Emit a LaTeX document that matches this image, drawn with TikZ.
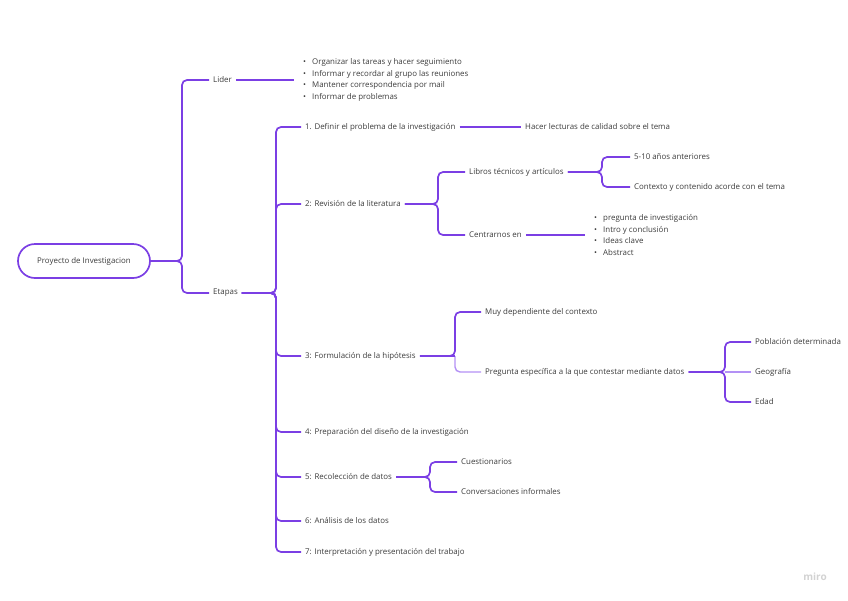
\documentclass[tikz,border=0pt]{standalone}
\usepackage{fontspec}
\setmainfont{Open Sans}
\definecolor{miroviolet}{HTML}{7B3FE4}
\definecolor{mirolilac}{HTML}{B391F5}
\definecolor{mirotext}{HTML}{3C3C3C}
\tikzset{
  topic/.style={anchor=west, inner xsep=4pt, inner ysep=2pt, font=\fontsize{7.9}{9}\selectfont, text=mirotext},
  bullets/.style={topic, inner xsep=9pt, align=left, font=\fontsize{7.9}{11.7}\selectfont},
  link/.style={draw=miroviolet, line width=1.7pt, rounded corners=5pt},
  softlink/.style={link, draw=mirolilac, line width=1.4pt},
}
\newcommand{\bul}{\makebox[9pt][l]{\textbullet}}
\begin{document}
\begin{tikzpicture}[x=1pt, y=-1pt]
    \useasboundingbox (0,0) rectangle (848,600);

    % Root
    \node[draw=miroviolet, line width=1.7pt, rounded corners=17pt, minimum width=132pt, minimum height=34pt, font=\fontsize{7.9}{9}\selectfont, text=mirotext] (root) at (84,261) {Proyecto de Investigacion};

    % Lider and Etapas
    \node[topic] (lider) at (209,80) {Lider};
    \node[topic] (etapas) at (209,293) {Etapas};
    \coordinate (b0) at (182,261);
    \draw[link] (root.east) -- (b0) |- (lider.west);
    \draw[link] (root.east) -- (b0) |- (etapas.west);

    % Tasks of the leader
    \node[bullets] (lidlist) at (294,80) {\bul Organizar las tareas y hacer seguimiento\\\bul Informar y recordar al grupo las reuniones\\\bul Mantener correspondencia por mail\\\bul Informar de problemas};
    \draw[link] (lider.east) -- (lidlist.west);

    % Stages
    \node[topic] (e1) at (301,127) {1. Definir el problema de la investigación};
    \node[topic] (e2) at (301,204) {2: Revisión de la literatura};
    \node[topic] (e3) at (301,356) {3: Formulación de la hipótesis};
    \node[topic] (e4) at (301,432) {4: Preparación del diseño de la investigación};
    \node[topic] (e5) at (301,477) {5: Recolección de datos};
    \node[topic] (e6) at (301,521) {6: Análisis de los datos};
    \node[topic] (e7) at (301,552) {7: Interpretación y presentación del trabajo};
    \coordinate (b1) at (276,293);
    \foreach \e in {e1,e2,e3,e4,e5,e6,e7}
        \draw[link] (etapas.east) -- (b1) |- (\e.west);

    % Stage 1
    \node[topic] (e1a) at (521,127) {Hacer lecturas de calidad sobre el tema};
    \draw[link] (e1.east) -- (e1a.west);

    % Stage 2
    \node[topic] (lib) at (465,172) {Libros técnicos y artículos};
    \node[topic] (cen) at (465,235) {Centrarnos en};
    \coordinate (b2) at (438,204);
    \draw[link] (e2.east) -- (b2) |- (lib.west);
    \draw[link] (e2.east) -- (b2) |- (cen.west);

    \node[topic] (anos) at (630,157) {5-10 años anteriores};
    \node[topic] (ctx) at (630,187) {Contexto y contenido acorde con el tema};
    \coordinate (b3) at (602,172);
    \draw[link] (lib.east) -- (b3) |- (anos.west);
    \draw[link] (lib.east) -- (b3) |- (ctx.west);

    \node[bullets] (cenlist) at (585,235) {\bul pregunta de investigación\\\bul Intro y conclusión\\\bul Ideas clave\\\bul Abstract};
    \draw[link] (cen.east) -- (cenlist.west);

    % Stage 3
    \node[topic] (muy) at (481,312) {Muy dependiente del contexto};
    \node[topic] (preg) at (481,372) {Pregunta específica a la que contestar mediante datos};
    \coordinate (b4) at (455,356);
    \draw[link] (e3.east) -- (b4) |- (muy.west);
    \draw[softlink] (b4) |- (preg.west);
    \draw[link] (e3.east) -- (b4);

    \node[topic] (pob) at (751,342) {Población determinada};
    \node[topic] (geo) at (751,372) {Geografía};
    \node[topic] (edad) at (751,402) {Edad};
    \coordinate (b5) at (725,372);
    \draw[link] (preg.east) -- (b5) |- (pob.west);
    \draw[link] (preg.east) -- (b5) |- (edad.west);
    \draw[softlink] (b5) -- (geo.west);

    % Stage 5
    \node[topic] (cue) at (457,462) {Cuestionarios};
    \node[topic] (con) at (457,492) {Conversaciones informales};
    \coordinate (b6) at (430,477);
    \draw[link] (e5.east) -- (b6) |- (cue.west);
    \draw[link] (e5.east) -- (b6) |- (con.west);

    % Watermark
    \node[text=gray!35, font=\bfseries\fontsize{10}{10}\selectfont] (miro) at (815,577) {miro};
\end{tikzpicture}
\end{document}
